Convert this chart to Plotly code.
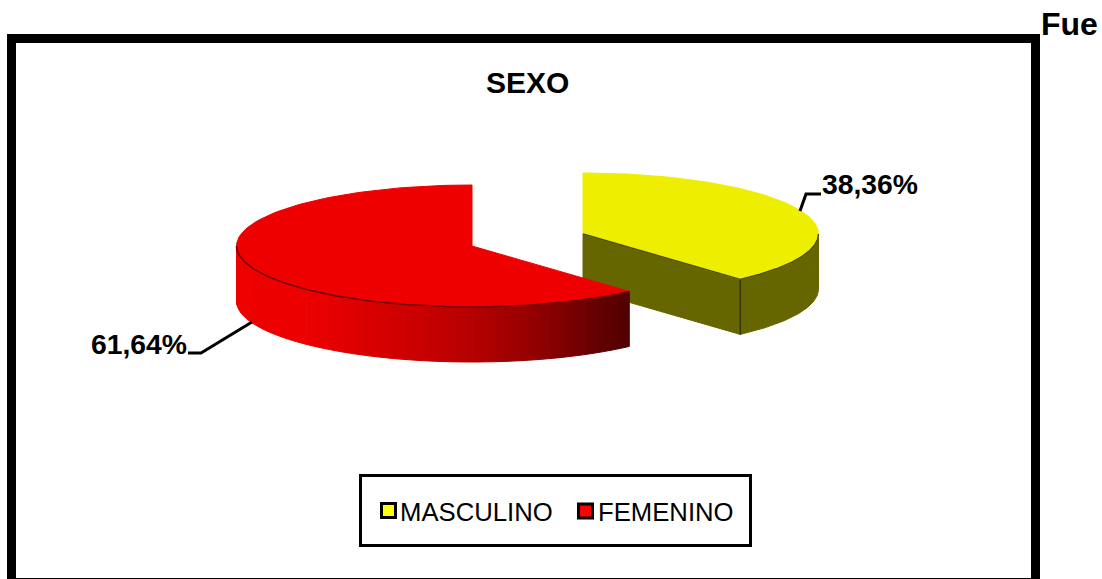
import math
import plotly.graph_objects as go

# ---- data ----
CATEGORIES = ["MASCULINO", "FEMENINO"]
VALUES = [38.36, 61.64]
TITLE = "SEXO"
CORNER_TEXT = "Fue"

# ---- styles / layout constants (pixel-scaled axes) ----
W, H = 1102, 579
FONT = "Liberation Sans"
TOP = ["#eeee00", "#ee0000"]
SWATCH = ["#ffff00", "#ff0000"]
CENTERS = [(583, 234), (472, 246)]
RX, RY, DEPTH = 235.5, 61, 55
GRAD = [(0.0, 238), (0.18, 236), (0.3, 222), (0.54, 192), (0.67, 168), (0.8, 136), (0.92, 101), (1.0, 80)]


def pt(c, deg, dy=0):
    t = math.radians(deg)
    return c[0] + RX * math.sin(t), c[1] - RY * math.cos(t) + dy


def arc(c, a, b, dy=0, n=120):
    return [pt(c, a + (b - a) * i / n, dy) for i in range(n + 1)]


def poly(points, fill, line=None, width=1):
    xs = [p[0] for p in points] + [points[0][0]]
    ys = [p[1] for p in points] + [points[0][1]]
    return go.Scatter(x=xs, y=ys, mode="lines", fill="toself", fillcolor=fill,
                      line=dict(color=line or fill, width=width),
                      hoverinfo="skip", showlegend=False)


def stroke(points, color="#000000", width=3):
    return go.Scatter(x=[p[0] for p in points], y=[p[1] for p in points], mode="lines",
                      line=dict(color=color, width=width), hoverinfo="skip", showlegend=False)


def red_shade(f):
    for (f0, v0), (f1, v1) in zip(GRAD, GRAD[1:]):
        if f <= f1:
            return round(v0 + (v1 - v0) * (f - f0) / (f1 - f0))
    return GRAD[-1][1]


fig = go.Figure()
split = 360 * VALUES[0] / sum(VALUES)   # boundary angle, clockwise from 12 o'clock

# --- MASCULINO slice (0 -> split) ---
c = CENTERS[0]
tip = pt(c, split)
fig.add_trace(poly([c, tip, (tip[0], tip[1] + DEPTH), (c[0], c[1] + DEPTH)], "#666600"))
fig.add_trace(poly(arc(c, 90, split) + arc(c, split, 90, DEPTH), "#666600"))
fig.add_trace(poly([c] + arc(c, 0, split), TOP[0]))
fig.add_trace(stroke([c, tip], "#4d4d00", 1.5))
fig.add_trace(stroke(arc(c, 90, split), "#4d4d00", 1.5))
fig.add_trace(stroke([tip, (tip[0], tip[1] + DEPTH)], "#333300", 1.5))

# --- FEMENINO slice (split -> 360), rim with gradient ---
c = CENTERS[1]
N = 70
for i in range(N):
    a = 270 + (split - 270) * i / N
    b = 270 + (split - 270) * (i + 1) / N
    x_mid = (pt(c, a)[0] + pt(c, b)[0]) / 2
    f = (x_mid - (c[0] - RX)) / (pt(c, split)[0] - (c[0] - RX))
    col = f"rgb({red_shade(f)},0,0)"
    fig.add_trace(poly(arc(c, a, b, 0, 4) + arc(c, b, a, DEPTH, 4), col))
fig.add_trace(poly([c] + arc(c, split, 360), TOP[1]))
fig.add_trace(stroke(arc(c, split, 270), "#700000", 1.5))

# --- leader lines ---
fig.add_trace(stroke([(800, 211), (806, 194), (821, 194)]))
fig.add_trace(stroke([(252, 322), (201, 353), (188, 353)]))

# --- legend swatches ---
fig.add_trace(go.Scatter(x=[388.5, 585.5], y=[510.5, 511], mode="markers", hoverinfo="skip", showlegend=False,
                         marker=dict(symbol="square", size=14, color=SWATCH,
                                     line=dict(color="#000000", width=3))))


def txt(x, y, s, size, anchor="left", bold=True):
    return dict(x=x, y=y, xref="x", yref="y", text=f"<b>{s}</b>" if bold else s, showarrow=False,
                xanchor=anchor, yanchor="middle", font=dict(family=FONT, size=size, color="#000000"))


def pct(v):
    return f"{v:.2f}".replace(".", ",") + "%"


annotations = [
    txt(527.5, 82.5, TITLE, 30, "center"),
    txt(1039, 24, CORNER_TEXT, 32),
    txt(820, 184, pct(VALUES[0]), 28.3),
    txt(189, 344, pct(VALUES[1]), 28.3, "right"),
    txt(398, 512, CATEGORIES[0], 25.7, bold=False),
    txt(596, 512, CATEGORIES[1], 25.7, bold=False),
]

shapes = [
    dict(type="rect", x0=11.5, x1=1035.5, y0=38.5, y1=582.5, xref="x", yref="y",
         line=dict(color="#000000", width=9)),
    dict(type="rect", x0=360.5, x1=750.5, y0=475.5, y1=545.5, xref="x", yref="y",
         line=dict(color="#000000", width=3)),
]

fig.update_layout(
    width=W, height=H, margin=dict(l=0, r=0, t=0, b=0),
    paper_bgcolor="#ffffff", plot_bgcolor="#ffffff", showlegend=False,
    xaxis=dict(range=[0, W], visible=False, fixedrange=True),
    yaxis=dict(range=[H, 0], visible=False, fixedrange=True),
    shapes=shapes, annotations=annotations,
)
fig.write_html("out.html", config={"displayModeBar": False},
               post_script="document.body.style.margin='0';document.documentElement.style.overflow='hidden';")
